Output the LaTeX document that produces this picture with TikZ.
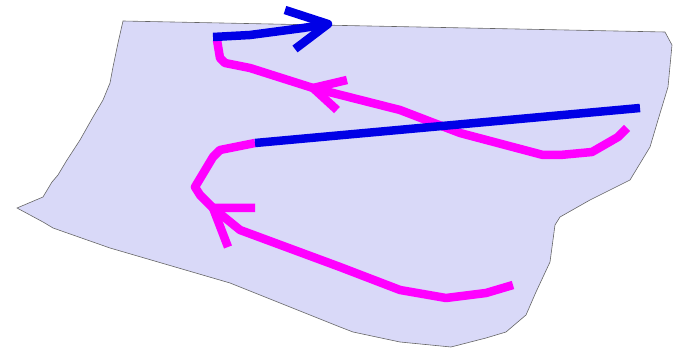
\documentclass[tikz,border=0pt]{standalone}
\usepackage{xcolor}
\usepackage{tikz}

\definecolor{sheetfill}{RGB}{217,217,248}
\definecolor{trailpink}{RGB}{255,0,255}
\definecolor{trailblue}{RGB}{0,0,230}

\begin{document}
\begin{tikzpicture}[x=1pt, y=-1pt,
        sheet/.style={fill=sheetfill, draw=black!60, line width=0.6pt},
        pinkline/.style={draw=trailpink, line width=8.5pt, line join=round},
        blueline/.style={draw=trailblue, line width=8.5pt, line join=round}]
        \useasboundingbox (0,0) rectangle (673,350);

        % the surface
        \path[sheet] (123,21) -- (665,32) -- (672,45) -- (668,87) -- (658,120)
        -- (650,147) -- (630,180) -- (590,200) -- (560,217) -- (555,225)
        -- (550,262) -- (536,292) -- (526,315) -- (506,332) -- (486,338)
        -- (451,347) -- (400,342) -- (353,332) -- (340,327) -- (230,283)
        -- (110,248) -- (53,228) -- (43,222) -- (17,208) -- (43,197)
        -- (52,182) -- (58,175) -- (67,160) -- (80,140) -- (93,117)
        -- (103,100) -- (110,83) -- (113,67) -- (118,43) -- cycle;

        \coordinate (t1) at (213,208);
        \coordinate (t2) at (313,88);
        \coordinate (t3) at (328,24);
        \coordinate (j1) at (255,143);
        \coordinate (j2) at (217,40);

        % lower trail
        \path[pinkline] (513,285) -- (486,293) -- (446,298) -- (400,290)
        -- (340,267) -- (240,230) -- (t1) -- (200,195) -- (195,187)
        -- (213,157) -- (220,150) -- (j1);
        \path[pinkline] (255,208) -- (t1) -- (228,247);

        % upper trail
        \path[pinkline] (627,128) -- (618,137) -- (592,152) -- (560,155)
        -- (543,155) -- (460,133) -- (400,110) -- (333,93) -- (t2)
        -- (250,68) -- (225,63) -- (220,58) -- (j2);
        \path[pinkline] (347,80) -- (t2) -- (337,110);

        % blue parts
        \path[blueline] (j1) -- (640,108);
        \path[blueline] (213,37) -- (250,35) -- (303,28) -- (t3);
        \path[blueline] (285,10) -- (t3) -- (295,49);
\end{tikzpicture}
\end{document}
